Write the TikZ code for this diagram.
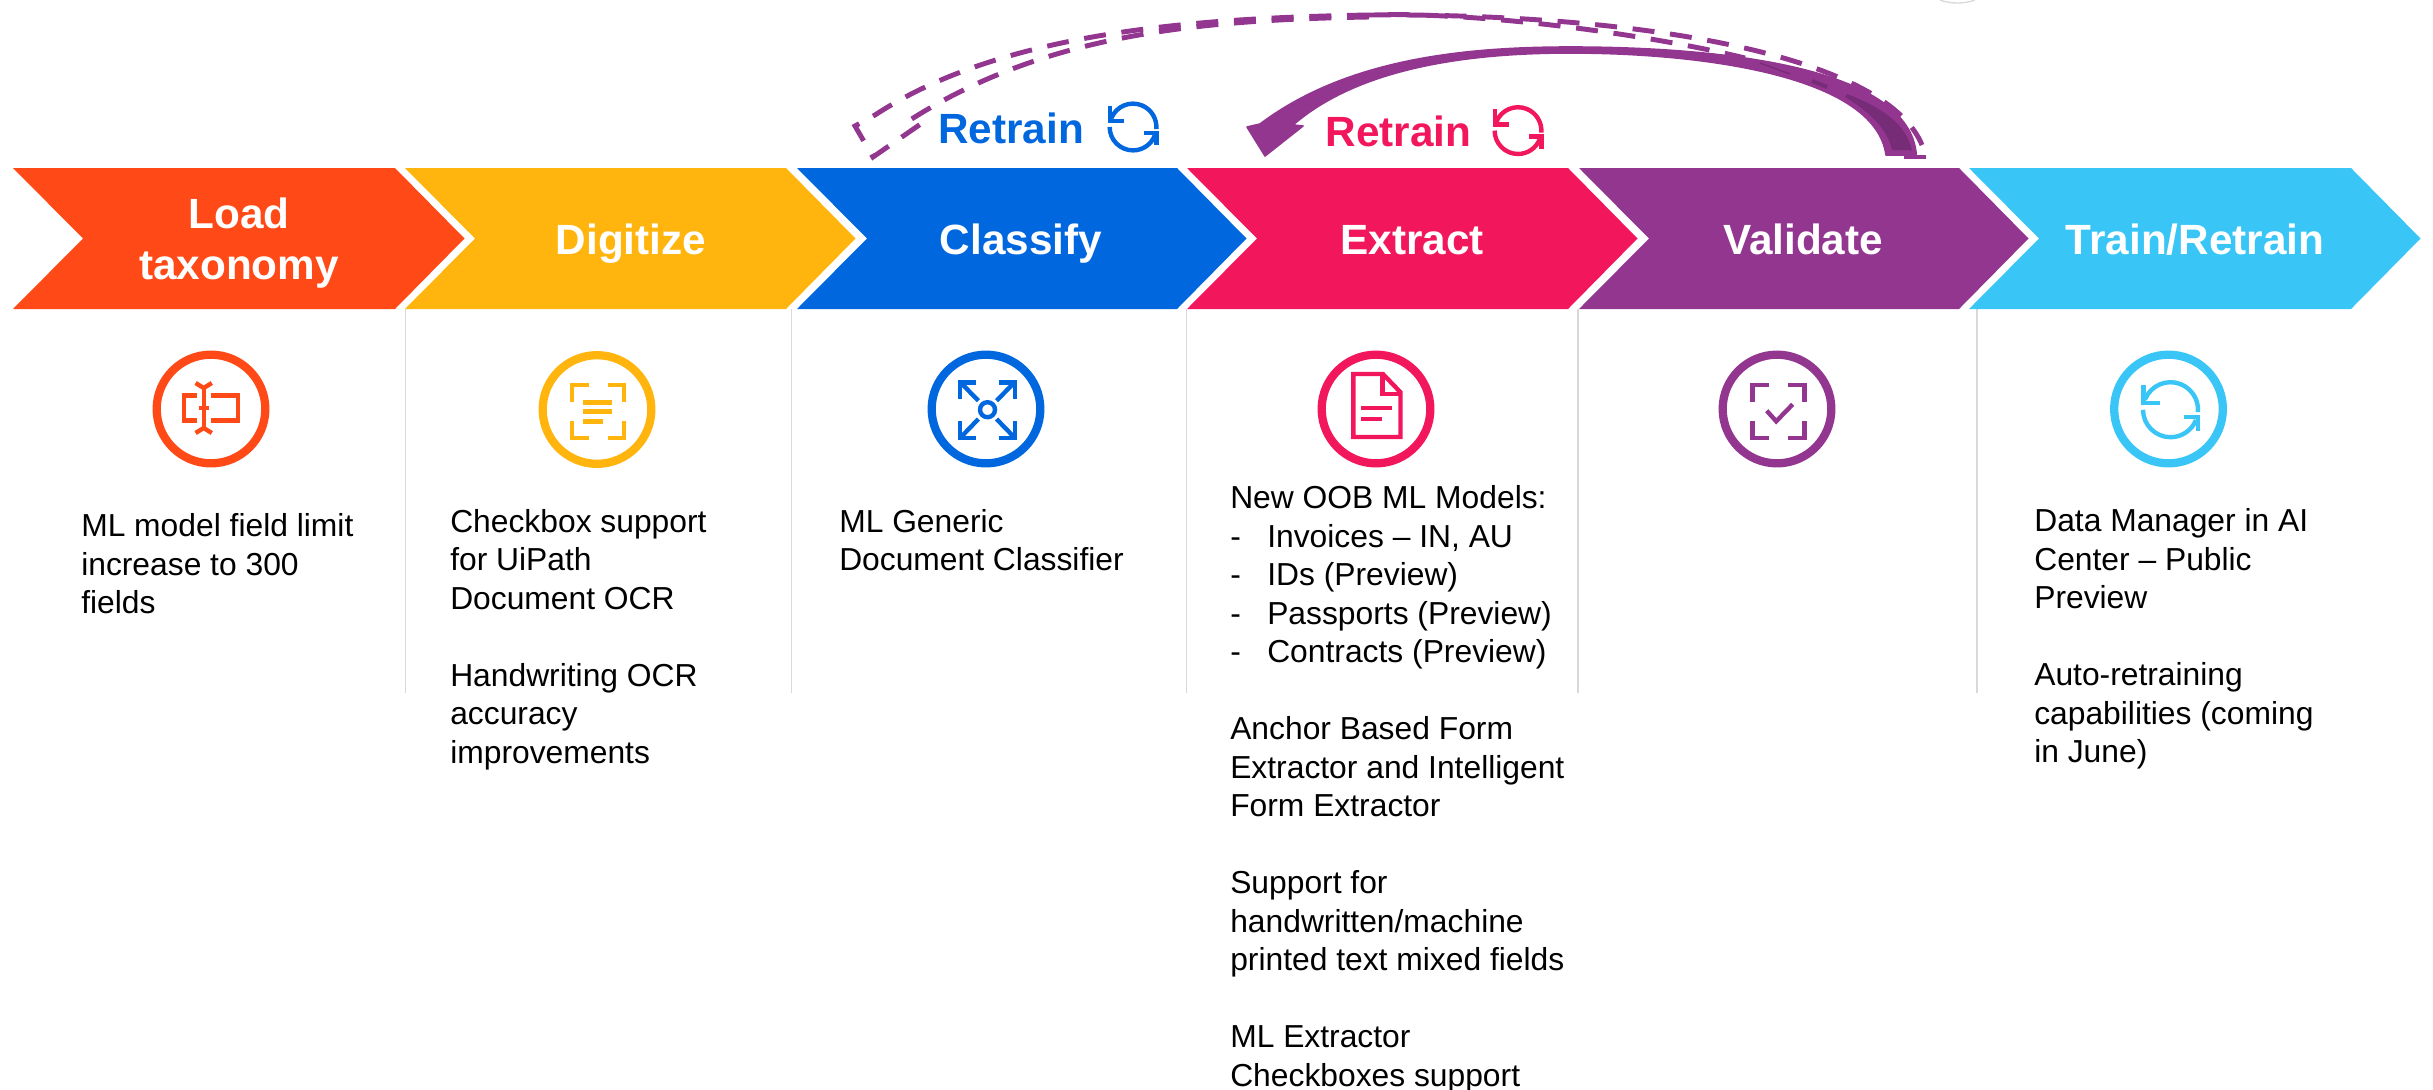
\documentclass[tikz,border=0pt]{standalone}
\usepackage{fontspec}
\setmainfont{Liberation Sans}
\definecolor{corange}{RGB}{255,74,23}
\definecolor{cgold}{RGB}{255,181,13}
\definecolor{cblue}{RGB}{0,103,223}
\definecolor{cpink}{RGB}{242,23,93}
\definecolor{cpurple}{RGB}{147,54,143}
\definecolor{cdark}{RGB}{119,44,120}
\definecolor{ccyan}{RGB}{57,198,246}
\definecolor{csep}{RGB}{217,217,217}
\newcommand{\firststrut}{\rule{0pt}{20pt}}
\newcommand{\dashitem}[1]{\makebox[27.75pt][l]{-}#1}
\newcommand{\chevron}[3]{%
  \fill[#3] (#1,168) -- (#2,168) -- ({#2+69.5},238.5) -- (#2,309) -- (#1,309) -- ({#1+70},238.5) -- cycle;}
\newcommand{\cycleicon}[4]{%
  \begin{scope}[shift={(#1,#2)},scale=#3,icon line=#4]
    \draw (0,0) ++(202:27.5) arc[start angle=202,end angle=365,radius=27.5];
    \draw (-27,-25) -- (-27,-7) -- (-10.4,-7);
    \draw (0,0) ++(180:27.5) arc[start angle=180,end angle=22,radius=27.5];
    \draw (13.3,7) -- (27.5,7) -- (27.5,21.6);
  \end{scope}}
\tikzset{
  x=0.75pt,y=-0.75pt,
  head/.style={text=white,font=\fontsize{31.7}{38.2}\selectfont\bfseries,align=center,anchor=base,inner sep=0pt},
  body/.style={text=black,font=\fontsize{23.85}{28.875}\selectfont,align=left,anchor=north west,inner sep=0pt},
  retrain/.style={font=\fontsize{31.7}{38}\selectfont\bfseries,anchor=base west,inner sep=0pt},
  ring/.style={circle,draw=#1,line width=6.2pt,minimum size=81.5pt,inner sep=0pt,outer sep=0pt},
  icon line/.style={draw=#1,line width=3.3pt,line cap=butt,line join=miter},
  sepline/.style={draw=csep,line width=1.1pt},
  dashline/.style={draw=cpurple,line width=3.7pt,dash pattern=on 16.5pt off 11.8pt},
}
\begin{document}
\begin{tikzpicture}
\useasboundingbox (0,0) rectangle (2433,1089);
\draw[csep,line width=1pt] (1940,0) .. controls (1950,4) and (1965,4) .. (1975,0);
% separators
\foreach \sx in {405.5,791.5,1186.5,1578,1977}{\draw[sepline] (\sx,309) -- (\sx,692.5);}
% chevrons
\chevron{13}{395}{corange}
\chevron{405}{786}{cgold}
\chevron{797}{1177}{cblue}
\chevron{1187}{1568}{cpink}
\chevron{1579}{1959}{cpurple}
\chevron{1969}{2351}{ccyan}
\node[head] (h1) at (239,279) {Load\\taxonomy};
\node[head] (h2) at (631,254) {Digitize};
\node[head] (h3) at (1021,254) {Classify};
\node[head] (h4) at (1412,254) {Extract};
\node[head] (h5) at (1803,254) {Validate};
\node[head] (h6) at (2195,254) {Train/Retrain};
% rings
\node[ring=corange] (r1) at (211,409) {};
\node[ring=cgold] (r2) at (597,409.5) {};
\node[ring=cblue] (r3) at (986,409) {};
\node[ring=cpink] (r4) at (1376,409) {};
\node[ring=cpurple] (r5) at (1777,409) {};
\node[ring=ccyan] (r6) at (2168.5,409) {};
% icon 1
\begin{scope}[shift={(r1)},icon line=corange]
  \draw (-14.5,-13.7) -- (-27,-13.7) -- (-27,11.3) -- (-14.5,11.3);
  \draw (0.4,-13.7) -- (27,-13.7) -- (27,11.3) -- (0.4,11.3);
  \draw[line width=3pt] (-7.3,-21) -- (-7.3,19);
  \draw (-12,-1) -- (-2,-1);
  \draw (-15.4,-26) -- (-7.3,-21) -- (0.8,-26);
  \draw (-15.4,24) -- (-7.3,19) -- (0.8,24);
\end{scope}
% icon 2
\begin{scope}[shift={(r2)},icon line=cgold]
  \draw (-25.3,-7.3) -- (-25.3,-24.3) -- (-8.4,-24.3);
  \draw (10.7,-24.3) -- (27,-24.3) -- (27,-7.3);
  \draw (-25.3,11.7) -- (-25.3,28.7) -- (-8.4,28.7);
  \draw (10.7,28.7) -- (27,28.7) -- (27,11.7);
  \draw (-14,-7) -- (15,-7);
  \draw (-14,2) -- (15,2);
  \draw (-14,12) -- (6,12);
\end{scope}
% icon 3
\begin{scope}[shift={(r3)},icon line=cblue]
  \draw (1.5,0.7) circle[radius=7.5];
  \draw (-26,-10) -- (-26,-26.7) -- (-10,-26.7);
  \draw (-24,-25) -- (-7.6,-8.3);
  \draw (13,-26.7) -- (29,-26.7) -- (29,-10);
  \draw (27,-25) -- (10.5,-8.3);
  \draw (-26,12) -- (-26,28.7) -- (-10,28.7);
  \draw (-24,27) -- (-7.6,10);
  \draw (13,28.7) -- (29,28.7) -- (29,12);
  \draw (27,27) -- (10.5,10);
\end{scope}
% icon 4
\begin{scope}[shift={(r4)},icon line=cpink]
  \draw (-22.6,-35) -- (6.9,-35) -- (24.5,-16.7) -- (24.5,28) -- (-22.6,28) -- cycle;
  \draw (6.5,-35) -- (6.5,-15) -- (24.5,-15);
  \draw (-15,-1) -- (16,-1);
  \draw (-15,9.7) -- (5.7,9.7);
\end{scope}
% icon 5
\begin{scope}[shift={(r5)},icon line=cpurple]
  \draw (-24.5,-7.3) -- (-24.5,-24.3) -- (-8,-24.3);
  \draw (11,-24.3) -- (27.5,-24.3) -- (27.5,-7.3);
  \draw (-24.5,11.7) -- (-24.5,28.7) -- (-8,28.7);
  \draw (11,28.7) -- (27.5,28.7) -- (27.5,11.7);
  \draw (-10.3,1.7) -- (-0.8,12.3) -- (15.7,-4.7);
\end{scope}
% icon 6
\cycleicon{2170.5}{409.7}{1}{ccyan}
% body text
\node[body] (b1) at (81,510) {\firststrut ML model field limit\\increase to 300\\fields};
\node[body] (b2) at (450,505.5) {\firststrut Checkbox support\\for UiPath\\Document OCR\\\mbox{}\\Handwriting OCR\\accuracy\\improvements};
\node[body] (b3) at (839,505.5) {\firststrut ML Generic\\Document Classifier};
\node[body] (b4) at (1230,482) {\firststrut New OOB ML Models:\\\dashitem{Invoices – IN, AU}\\\dashitem{IDs (Preview)}\\\dashitem{Passports (Preview)}\\\dashitem{Contracts (Preview)}\\\mbox{}\\Anchor Based Form\\Extractor and Intelligent\\Form Extractor\\\mbox{}\\Support for\\handwritten/machine\\printed text mixed fields\\\mbox{}\\ML Extractor\\Checkboxes support};
\node[body] (b6) at (2034,505) {\firststrut Data Manager in AI\\Center – Public\\Preview\\\mbox{}\\Auto-retraining\\capabilities (coming\\in June)};
% retrain labels
\node[retrain,text=cblue] (t1) at (938,143) {Retrain};
\node[retrain,text=cpink] (t2) at (1325.5,146) {Retrain};
\cycleicon{1133}{127}{0.85}{cblue}
\cycleicon{1518}{130.6}{0.85}{cpink}
% dashed loop
\coordinate (dashApex) at (1369,15);
\coordinate (dashEnd) at (1926,157);
\coordinate (dashBarbL) at (855,126);
\coordinate (dashTip) at (873,157);
\coordinate (dashBarbR) at (925,121);
\draw[dashline] (dashApex) .. controls (1190,18) and (1000,33) .. (875,115) -- (dashBarbL) -- (dashTip) -- (dashBarbR);
\draw[dashline] (1369,17) .. controls (1190,20) and (1040,36) .. (907,122);
\draw[dashline] (dashApex) .. controls (1640,13) and (1885,55) .. (1922,145);
\draw[dashline] (1388,14.5) .. controls (1500,14.5) and (1650,35) .. (1745,58);
\draw[cpurple,line width=2.4pt] (1904,157) -- (dashEnd);
% solid arrow
\coordinate (arrowTip) at (1265,156);
\coordinate (arrowBarbR) at (1303,126);
\coordinate (arrowBarbL) at (1247,127);
\filldraw[cpurple,line width=1.2pt,line join=round]
  (1886,155) .. controls (1875,75) and (1700,53) .. (1570,53)
  .. controls (1470,53) and (1360,67) .. (1293,125)
  -- (arrowBarbR) -- (arrowTip) -- (arrowBarbL) -- (1260,124)
  .. controls (1345,60) and (1460,47) .. (1570,47)
  .. controls (1700,47) and (1905,62) .. (1916,152)
  -- (1916,155) -- cycle;
\fill[cdark] (1912,150) .. controls (1905,122) and (1880,107) .. (1847,94)
  -- (1845,97) .. controls (1870,112) and (1888,130) .. (1892,150) -- cycle;
\draw[cdark,line width=3pt] (1812,81) -- (1827,87);
\draw[cdark,line width=1pt] (1760,63) -- (1790,74);
\end{tikzpicture}
\end{document}
